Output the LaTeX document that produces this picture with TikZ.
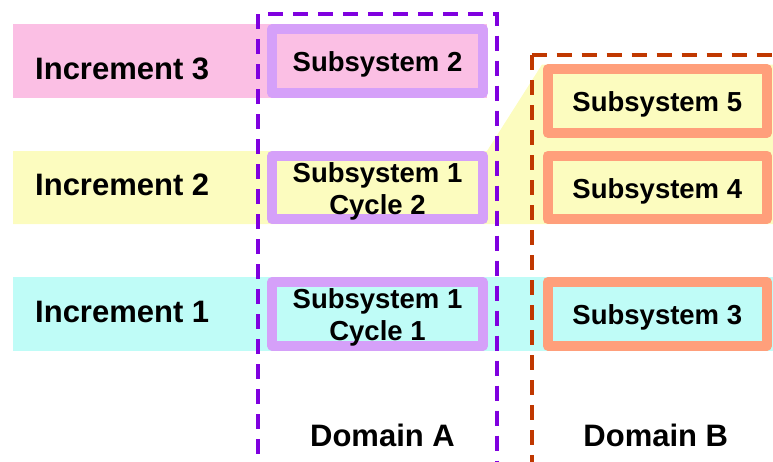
\documentclass[tikz,border=0pt]{standalone}
\usepackage{fontspec}
\setmainfont{Liberation Sans}
\definecolor{bandpink}{HTML}{FBBFE4}
\definecolor{bandyellow}{HTML}{FCFCBF}
\definecolor{bandcyan}{HTML}{BFFCF7}
\definecolor{boxpurple}{HTML}{D5A0F9}
\definecolor{boxorange}{HTML}{FF9F7B}
\definecolor{domainpurple}{HTML}{7F00DF}
\definecolor{domainbrown}{HTML}{C03800}
\tikzset{
  subsys/.style={draw, line width=10pt, line join=round, inner sep=0pt},
  subsysA/.style={subsys, draw=boxpurple, minimum width=211pt, minimum height=63.4pt},
  subsysB/.style={subsys, draw=boxorange, minimum width=219.3pt, minimum height=63.4pt},
  subtext/.style={inner sep=0pt, align=center, yshift=-3.5pt,
    font=\fontsize{27.5}{32}\selectfont\bfseries},
  inclabel/.style={anchor=base west, inner sep=0pt, font=\fontsize{31}{36}\selectfont\bfseries},
  domlabel/.style={anchor=base, inner sep=0pt, font=\fontsize{31}{36}\selectfont\bfseries},
  domline/.style={line width=4pt, dash pattern=on 15pt off 10pt},
}
\begin{document}
\begin{tikzpicture}[x=1pt, y=-1pt]
\useasboundingbox (0,0) rectangle (773,461);
\clip (0,0) rectangle (773,461);

% increment bands
\fill[bandpink] (13,24.3) rectangle (487,97.7);
\fill[bandyellow] (13,151) -- (487,151) -- (542,64.5) -- (773,64.5) -- (773,224) -- (13,224) -- cycle;
\fill[bandcyan] (13,277) rectangle (773,350.7);

% increment labels
\node[inclabel] (inc3) at (35,79) {Increment 3};
\node[inclabel] (inc2) at (35,195) {Increment 2};
\node[inclabel] (inc1) at (35,322) {Increment 1};

% subsystems of domain A
\node[subsysA] (s2)   at (377.5,61)    {};
\node[subsysA] (s1c2) at (377.5,187.5) {};
\node[subsysA] (s1c1) at (377.5,313.8) {};
\node[subtext] (s2t)   at (s2.center)   {Subsystem 2};
\node[subtext] (s1c2t) at (s1c2.center) {Subsystem 1\\Cycle 2};
\node[subtext] (s1c1t) at (s1c1.center) {Subsystem 1\\Cycle 1};

% subsystems of domain B
\node[subsysB] (s5) at (657.3,101)   {};
\node[subsysB] (s4) at (657.3,187.5) {};
\node[subsysB] (s3) at (657.3,313.8) {};
\node[subtext] (s5t) at (s5.center) {Subsystem 5};
\node[subtext] (s4t) at (s4.center) {Subsystem 4};
\node[subtext] (s3t) at (s3.center) {Subsystem 3};

% domain frames
\draw[domline, domainpurple, dash phase=15pt] (258,14.3) -- (496.7,14.3) -- (496.7,470);
\draw[domline, domainpurple] (258,14.3) -- (258,470);
\draw[domline, domainbrown] (531.7,55) -- (800,55);
\draw[domline, domainbrown] (531.7,55) -- (531.7,470);

% domain labels
\node[domlabel] (domA) at (382.5,446.5) {Domain A};
\node[domlabel] (domB) at (655.8,446.5) {Domain B};
\end{tikzpicture}
\end{document}
